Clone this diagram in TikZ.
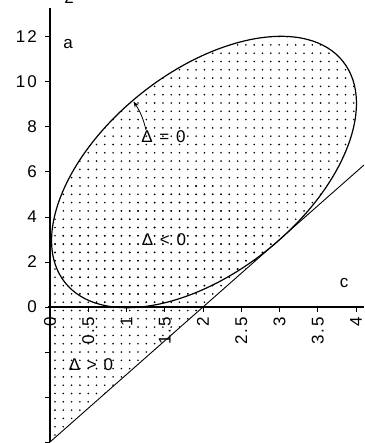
\documentclass[tikz,border=0pt]{standalone}
\usepackage{fontspec}
\setmainfont{Liberation Sans}[LetterSpace=12]
\usetikzlibrary{arrows.meta}
\begin{document}
\begin{tikzpicture}[x=1bp,y=-1bp,
  lbl/.style={font=\fontsize{17bp}{20bp}\selectfont, inner sep=0pt},
  axisline/.style={line width=1.3bp},
  tickline/.style={line width=1bp},
  curveline/.style={line width=1.2bp},
  dotfill/.style={fill=black},
  ]
\useasboundingbox (0,0) rectangle (364,443);
% dotted region: polygon below/left part
\begin{scope}
  \clip (50,442) -- (279,240) -- (204,172) -- (50,240.6) -- cycle;
  \foreach \i in {0,...,28} \foreach \j in {20,...,53}
    \fill[dotfill] (55+8.3*\i, 3.4+8.3*\j) circle[radius=0.9bp];
\end{scope}
% dotted region: inside ellipse
\begin{scope}
  \clip[shift={(204,172)}, rotate=38.5] (0,0) ellipse [x radius=177.6, y radius=100.5];
  \foreach \i in {0,...,37} \foreach \j in {3,...,37}
    \fill[dotfill] (55+8.3*\i, 3.4+8.3*\j) circle[radius=0.9bp];
\end{scope}
% ellipse boundary
\draw[curveline, shift={(204,172)}, rotate=38.5] (0,0) ellipse [x radius=177.6, y radius=100.5];
% line a = 3c - 6
\coordinate (l0) at (50,442);
\coordinate (l1) at (364,165);
\draw[line width=0.9bp] (l0) -- (l1);
% axes
\coordinate (ytop) at (50,8);
\coordinate (ybot) at (50,442);
\coordinate (xl) at (48,307);
\coordinate (xr) at (364,307);
\draw[axisline] (ytop) -- (ybot);
\draw[axisline] (xl) -- (xr);
% y ticks and labels
\foreach \a in {12,10,...,-6}
  \draw[tickline] (45,307-22.5*\a) -- (50,307-22.5*\a);
\foreach \a in {12,10,...,0}
  \node[lbl, anchor=east] (ya\a) at (37,307-22.5*\a) {\a};
% x ticks and labels
\foreach \c/\t in {0/0,0.5/0.5,1/1,1.5/1.5,2/2,2.5/2.5,3/3,3.5/3.5,4/4}{
  \draw[tickline] (50+76.5*\c,307) -- (50+76.5*\c,312);
  \node[lbl, rotate=90, anchor=east] (xc\t) at (50+76.5*\c,317) {\t};
}
% axis names
\node[lbl] (la) at (68,44) {a};
\node[lbl] (lc) at (344,283) {c};
\node[lbl, anchor=base] (ltop) at (69,4) {2};
% region labels
\node[lbl] (d0) at (163.5,137) {Δ = 0};
\node[lbl] (dl) at (164,240) {Δ < 0};
\node[lbl] (dg) at (91,365) {Δ > 0};
% arrow from label to boundary
\coordinate (as) at (146,130);
\coordinate (ae) at (133.5,101.5);
\draw[line width=0.8bp, -{Stealth[length=6bp,width=4.5bp]}] (as) to[bend right=10] (ae);
\end{tikzpicture}
\end{document}
